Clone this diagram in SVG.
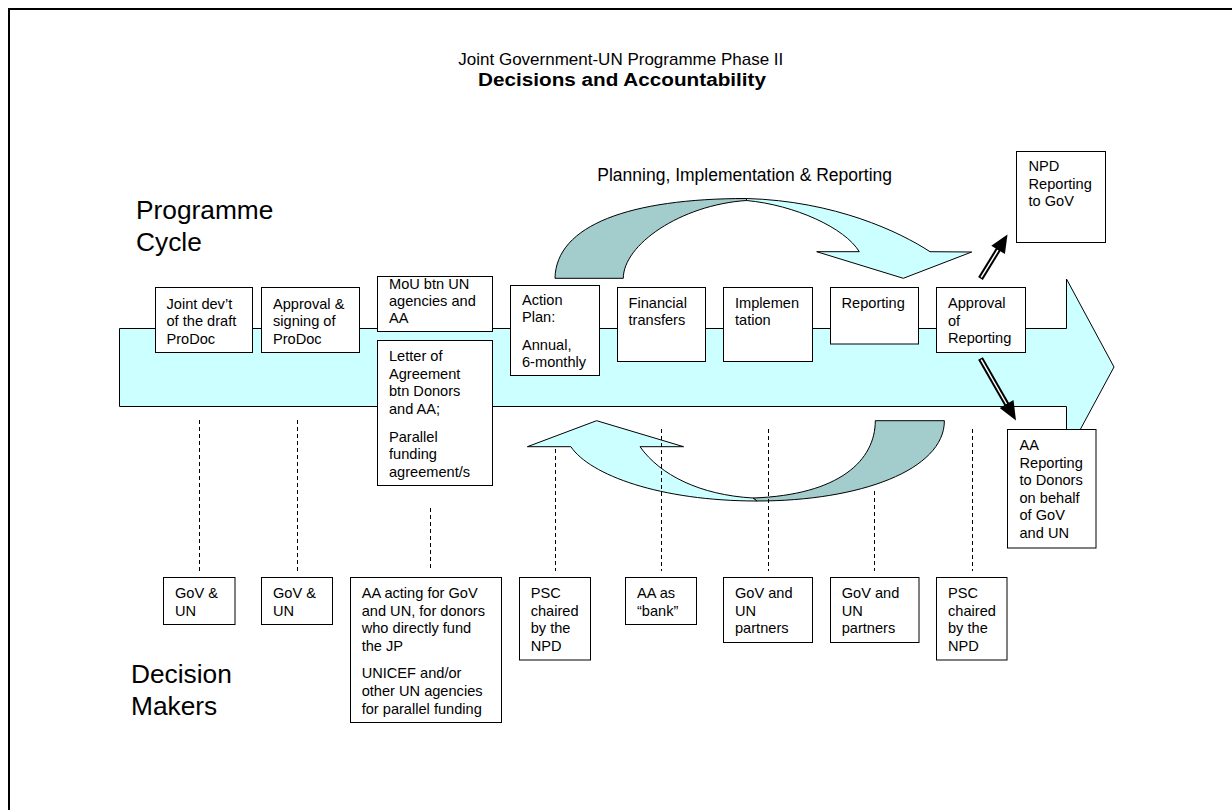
<svg xmlns="http://www.w3.org/2000/svg" width="1232" height="810" viewBox="0 0 1232 810">
<style>
.box{fill:#fff;stroke:#000;stroke-width:1}
.t{font-family:"Liberation Sans",Arial,Helvetica,sans-serif;font-size:14.6px;fill:#000}
.lbl{font-family:"Liberation Sans",Arial,Helvetica,sans-serif;font-size:26.3px;fill:#000}
.dash{stroke:#000;stroke-width:1;stroke-dasharray:4 3;fill:none}
.lt{fill:#CCFFFF;stroke:#000;stroke-width:1}
.dk{fill:#A3CCCC;stroke:#000;stroke-width:1}
.shaft{stroke:#000;stroke-width:5.5;fill:none}
.inner{stroke:#fff;stroke-width:1.5;fill:none}
</style>
<rect width="1232" height="810" fill="#fff"/>
<path d="M9,812 V9 H1234" fill="none" stroke="#000" stroke-width="2"/>

<g id="title">
<text x="620.8" y="64.5" text-anchor="middle" font-family="'Liberation Sans',Arial,sans-serif" font-size="17px">Joint Government-UN Programme Phase II</text>
<text x="478" y="85.5" textLength="288" lengthAdjust="spacingAndGlyphs" font-family="'Liberation Sans',Arial,sans-serif" font-size="17.5px" font-weight="bold">Decisions and Accountability</text>
</g>

<g id="side-labels">
<text class="lbl" x="136" y="219">Programme</text>
<text class="lbl" x="136" y="250.5">Cycle</text>
<text class="lbl" x="131" y="683.3">Decision</text>
<text class="lbl" x="131" y="715">Makers</text>
</g>

<g id="cycle-arrow">
<polygon class="lt" points="119.5,328.5 1066.5,328.5 1066.5,279 1114,367 1066.5,455 1066.5,406.5 119.5,406.5"/>
</g>

<g id="planning-arrow">
<path class="dk" d="M555,278.3 C556,225 630,198.5 746.5,198.5 L746.5,200.5 C680,205 623.3,245 623.3,278.3 Z"/>
<path class="lt" d="M746.5,198.5 C835,201 900,232 930,251.7 L971.7,252 L903.3,278.3 L816.7,251.7 L859.3,251.7 C845,228 795,205 746.5,200.5 Z"/>
<text x="597.3" y="181" font-family="'Liberation Sans',Arial,sans-serif" font-size="17.5px">Planning, Implementation &amp; Reporting</text>
</g>

<g id="return-arrow">
<path class="dk" d="M875.3,420.7 L944.4,420.7 C944.4,470 860,501 757,501 L753,498 C840,495 875.3,460 875.3,420.7 Z"/>
<path class="lt" d="M570.9,446.7 L527.4,446.7 L596.6,420.7 L683.6,446.7 L640,446.7 C660,475 700,495 753,498 L757,501 C660,501 590,475 570.9,446.7 Z"/>
</g>

<g id="connectors">
<line class="dash" x1="199.5" y1="420" x2="199.5" y2="571"/>
<line class="dash" x1="297.5" y1="420" x2="297.5" y2="571"/>
<line class="dash" x1="430.5" y1="508" x2="430.5" y2="571"/>
<line class="dash" x1="555.5" y1="449" x2="555.5" y2="571"/>
<line class="dash" x1="661.5" y1="429" x2="661.5" y2="571"/>
<line class="dash" x1="768.5" y1="429" x2="768.5" y2="571"/>
<line class="dash" x1="874.5" y1="491" x2="874.5" y2="571"/>
<line class="dash" x1="972.5" y1="429" x2="972.5" y2="571"/>
<g id="arrow-npd">
<line class="shaft" x1="980.5" y1="278.5" x2="999.5" y2="247.5"/>
<line class="inner" x1="981.2" y1="277.3" x2="998" y2="250"/>
<polygon points="1007.5,234.5 1004.9,254.1 991.3,245.7" fill="#000"/>
</g>
<g id="arrow-aa">
<line class="shaft" x1="980.5" y1="358.5" x2="1008" y2="406.5"/>
<line class="inner" x1="981.2" y1="359.7" x2="1006.5" y2="404"/>
<polygon points="1016,420.5 999.7,408 1013.5,400" fill="#000"/>
</g>
</g>

<g id="n-joint"><rect class="box" x="155.5" y="287.5" width="97" height="65"/>
<text class="t"><tspan x="166.5" y="308.5">Joint dev’t</tspan><tspan x="166.5" y="326">of the draft</tspan><tspan x="166.5" y="343.5">ProDoc</tspan></text></g>
<g id="n-approval-signing"><rect class="box" x="261.5" y="287.5" width="98" height="65"/>
<text class="t"><tspan x="273" y="308.5">Approval &amp;</tspan><tspan x="273" y="326">signing of</tspan><tspan x="273" y="343.5">ProDoc</tspan></text></g>
<g id="n-mou"><rect class="box" x="377.5" y="276.5" width="115" height="55"/>
<text class="t"><tspan x="389" y="289">MoU btn UN</tspan><tspan x="389" y="306">agencies and</tspan><tspan x="389" y="323">AA</tspan></text></g>
<g id="n-letter"><rect class="box" x="377.5" y="340.5" width="115" height="145"/>
<text class="t"><tspan x="389" y="361">Letter of</tspan><tspan x="389" y="378.5">Agreement</tspan><tspan x="389" y="396">btn Donors</tspan><tspan x="389" y="413.5">and AA;</tspan><tspan x="389" y="441.5">Parallel</tspan><tspan x="389" y="459">funding</tspan><tspan x="389" y="476.5">agreement/s</tspan></text></g>
<g id="n-action"><rect class="box" x="510.5" y="285.5" width="89" height="90"/>
<text class="t"><tspan x="522" y="305">Action</tspan><tspan x="522" y="322">Plan:</tspan><tspan x="522" y="350">Annual,</tspan><tspan x="522" y="367">6-monthly</tspan></text></g>
<g id="n-financial"><rect class="box" x="617.5" y="287.5" width="88" height="74"/>
<text class="t"><tspan x="628.5" y="307.7">Financial</tspan><tspan x="628.5" y="325">transfers</tspan></text></g>
<g id="n-implementation"><rect class="box" x="723.5" y="287.5" width="89" height="74"/>
<text class="t"><tspan x="735" y="307.7">Implemen</tspan><tspan x="735" y="325">tation</tspan></text></g>
<g id="n-reporting"><rect class="box" x="830.5" y="287.5" width="88" height="56.5"/>
<text class="t"><tspan x="841.5" y="307.7">Reporting</tspan></text></g>
<g id="n-approval-reporting"><rect class="box" x="936.5" y="287.5" width="89" height="65"/>
<text class="t"><tspan x="948" y="308">Approval</tspan><tspan x="948" y="325.5">of</tspan><tspan x="948" y="343">Reporting</tspan></text></g>
<g id="n-npd"><rect class="box" x="1016.5" y="151.5" width="89" height="91"/>
<text class="t"><tspan x="1028.5" y="171">NPD</tspan><tspan x="1028.5" y="188.5">Reporting</tspan><tspan x="1028.5" y="206">to GoV</tspan></text></g>
<g id="n-aa-reporting"><rect class="box" x="1007.5" y="429.5" width="88.5" height="118.5"/>
<text class="t"><tspan x="1019.5" y="450">AA</tspan><tspan x="1019.5" y="467.5">Reporting</tspan><tspan x="1019.5" y="485">to Donors</tspan><tspan x="1019.5" y="502.5">on behalf</tspan><tspan x="1019.5" y="520">of GoV</tspan><tspan x="1019.5" y="537.5">and UN</tspan></text></g>

<g id="d-gov-un-1"><rect class="box" x="163.5" y="577.5" width="71.5" height="47"/>
<text class="t"><tspan x="175" y="597.7">GoV &amp;</tspan><tspan x="175" y="615.5">UN</tspan></text></g>
<g id="d-gov-un-2"><rect class="box" x="261.5" y="577.5" width="71" height="47"/>
<text class="t"><tspan x="273" y="597.7">GoV &amp;</tspan><tspan x="273" y="615.5">UN</tspan></text></g>
<g id="d-aa-acting"><rect class="box" x="350.5" y="577.5" width="151" height="145"/>
<text class="t"><tspan x="361.7" y="597.7">AA acting for GoV</tspan><tspan x="361.7" y="615.5">and UN, for donors</tspan><tspan x="361.7" y="633.3">who directly fund</tspan><tspan x="361.7" y="651">the JP</tspan><tspan x="361.7" y="678.3">UNICEF and/or</tspan><tspan x="361.7" y="696">other UN agencies</tspan><tspan x="361.7" y="713.5">for parallel funding</tspan></text></g>
<g id="d-psc-1"><rect class="box" x="519.5" y="577.5" width="71" height="82.5"/>
<text class="t"><tspan x="530.7" y="597.7">PSC</tspan><tspan x="530.7" y="615.5">chaired</tspan><tspan x="530.7" y="633.3">by the</tspan><tspan x="530.7" y="651">NPD</tspan></text></g>
<g id="d-aa-bank"><rect class="box" x="625.5" y="577.5" width="71" height="47"/>
<text class="t"><tspan x="637" y="597.7">AA as</tspan><tspan x="637" y="615.5">“bank”</tspan></text></g>
<g id="d-gov-partners-1"><rect class="box" x="723.5" y="577.5" width="89" height="65"/>
<text class="t"><tspan x="735" y="597.7">GoV and</tspan><tspan x="735" y="615.5">UN</tspan><tspan x="735" y="633.3">partners</tspan></text></g>
<g id="d-gov-partners-2"><rect class="box" x="830.5" y="577.5" width="88.5" height="65"/>
<text class="t"><tspan x="841.7" y="597.7">GoV and</tspan><tspan x="841.7" y="615.5">UN</tspan><tspan x="841.7" y="633.3">partners</tspan></text></g>
<g id="d-psc-2"><rect class="box" x="936.5" y="577.5" width="70.5" height="82.5"/>
<text class="t"><tspan x="948" y="597.7">PSC</tspan><tspan x="948" y="615.5">chaired</tspan><tspan x="948" y="633.3">by the</tspan><tspan x="948" y="651">NPD</tspan></text></g>
</svg>
